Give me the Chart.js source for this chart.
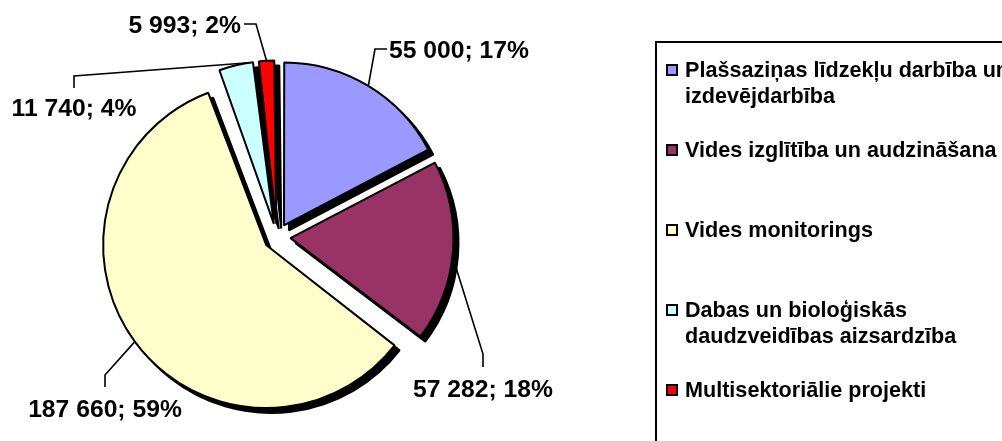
<!DOCTYPE html>
<html>
<head>
<meta charset="utf-8">
<script src="https://cdn.jsdelivr.net/npm/chart.js@4.4.1/dist/chart.umd.min.js"></script>
<style>
html,body{margin:0;padding:0;background:#fff;overflow:hidden}
#wrap{width:1002px;height:441px;position:relative}
</style>
</head>
<body>
<div id="wrap"><canvas id="c" width="1002" height="441"></canvas></div>
<script>
// ---- data ----
const categories = [
  ['Plašsaziņas līdzekļu darbība un', 'izdevējdarbība'],
  ['Vides izglītība un audzināšana'],
  ['Vides monitorings'],
  ['Dabas un bioloģiskās', 'daudzveidības aizsardzība'],
  ['Multisektoriālie projekti']
];
const values = [55000, 57282, 187660, 11740, 5993];

// ---- styles / layout ----
const colors = ['#9999FF', '#993366', '#FFFFCC', '#CCFFFF', '#FF0000'];
const RADIUS = 163;
const OFFSET = 54; // chart.js translates by offset/4
const SHADOW = 5;
const LABEL_FONT = 'bold 24.7px "Liberation Sans", Arial, sans-serif';
const LEGEND_FONT = 'bold 21.6px "Liberation Sans", Arial, sans-serif';
const labelLayout = [
  {frac: 0.5,  pad: 0, path: [[375, 49], [387, 49]], tx: 389, ty: 58,  align: 'left'},
  {frac: 0.58, pad: 5, path: [[483, 354], [483, 367]], tx: 483, ty: 397, align: 'center'},
  {frac: 0.5,  pad: 1, path: [[105, 375], [105, 387]], tx: 105, ty: 417, align: 'center'},
  {frac: 0.85, pad: 0, path: [[74, 76], [74, 88]], tx: 74, ty: 116, align: 'center'},
  {frac: 0.5,  pad: 0, path: [[256, 24], [244, 24]], tx: 241, ty: 33, align: 'right'}
];
const legendLayout = {boxX: 656, boxY: 42, sqX: 667, textX: 685, firstBase: 77, step: 80, lineStep: 26};

function fmt(v) { return String(v).replace(/\B(?=(\d{3})+(?!\d))/g, ' '); }

const fixRadius = {
  id: 'fixRadius',
  afterDatasetsUpdate(chart) {
    chart.getDatasetMeta(0).data.forEach(arc => {
      const circ = arc.endAngle - arc.startAngle;
      const fix = 1 - Math.sin(Math.min(Math.PI, circ));
      arc.outerRadius = RADIUS - (OFFSET / 4) * fix;
    });
  }
};

const shadow = {
  id: 'shadow',
  beforeDatasetsDraw(chart) {
    const c = chart.ctx;
    c.save();
    c.translate(SHADOW, SHADOW);
    chart.getDatasetMeta(0).data.forEach(arc => {
      const o = arc.options;
      arc.options = Object.assign({}, o, {backgroundColor: '#000', borderColor: '#000'});
      arc.draw(c);
      arc.options = o;
    });
    c.restore();
  }
};

const labelsAndLegend = {
  id: 'labelsAndLegend',
  afterDraw(chart) {
    const c = chart.ctx;
    const arcs = chart.getDatasetMeta(0).data;
    const total = values.reduce((a, b) => a + b, 0);
    c.save();
    arcs.forEach((arc, i) => {
      const L = labelLayout[i];
      const mid = (arc.startAngle + arc.endAngle) / 2;
      const a = arc.startAngle + L.frac * (arc.endAngle - arc.startAngle);
      const o = OFFSET / 4;
      const ax = arc.x + Math.cos(mid) * o + Math.cos(a) * (RADIUS + L.pad);
      const ay = arc.y + Math.sin(mid) * o + Math.sin(a) * (RADIUS + L.pad);
      c.beginPath();
      c.strokeStyle = '#000';
      c.lineWidth = 1.6;
      c.moveTo(ax, ay);
      L.path.forEach(p => c.lineTo(p[0], p[1]));
      c.stroke();
      c.font = LABEL_FONT;
      c.fillStyle = '#000';
      c.textAlign = L.align;
      c.textBaseline = 'alphabetic';
      const pct = Math.round(values[i] / total * 100);
      c.fillText(fmt(values[i]) + '; ' + pct + '%', L.tx, L.ty);
    });
    const G = legendLayout;
    c.lineWidth = 2;
    c.strokeStyle = '#000';
    c.strokeRect(G.boxX, G.boxY, 2000, 2000);
    c.font = LEGEND_FONT;
    c.textAlign = 'left';
    c.textBaseline = 'alphabetic';
    chart.data.labels.forEach((lab, i) => {
      const base = G.firstBase + i * G.step;
      c.fillStyle = colors[i];
      c.fillRect(G.sqX, base - 12, 10, 10);
      c.lineWidth = 2;
      c.strokeRect(G.sqX, base - 12, 10, 10);
      c.fillStyle = '#000';
      lab.forEach((line, k) => c.fillText(line, G.textX, base + k * G.lineStep));
    });
    c.restore();
  }
};

new Chart(document.getElementById('c'), {
  type: 'pie',
  data: {
    labels: categories,
    datasets: [{
      data: values,
      backgroundColor: colors,
      borderColor: '#000',
      borderWidth: 2,
      offset: OFFSET,
      clip: false
    }]
  },
  options: {
    responsive: false,
    animation: false,
    radius: RADIUS,
    layout: {padding: {left: 77, right: 525, top: 37, bottom: 4}},
    plugins: {legend: {display: false}, tooltip: {enabled: false}}
  },
  plugins: [fixRadius, shadow, labelsAndLegend]
});
</script>
</body>
</html>
